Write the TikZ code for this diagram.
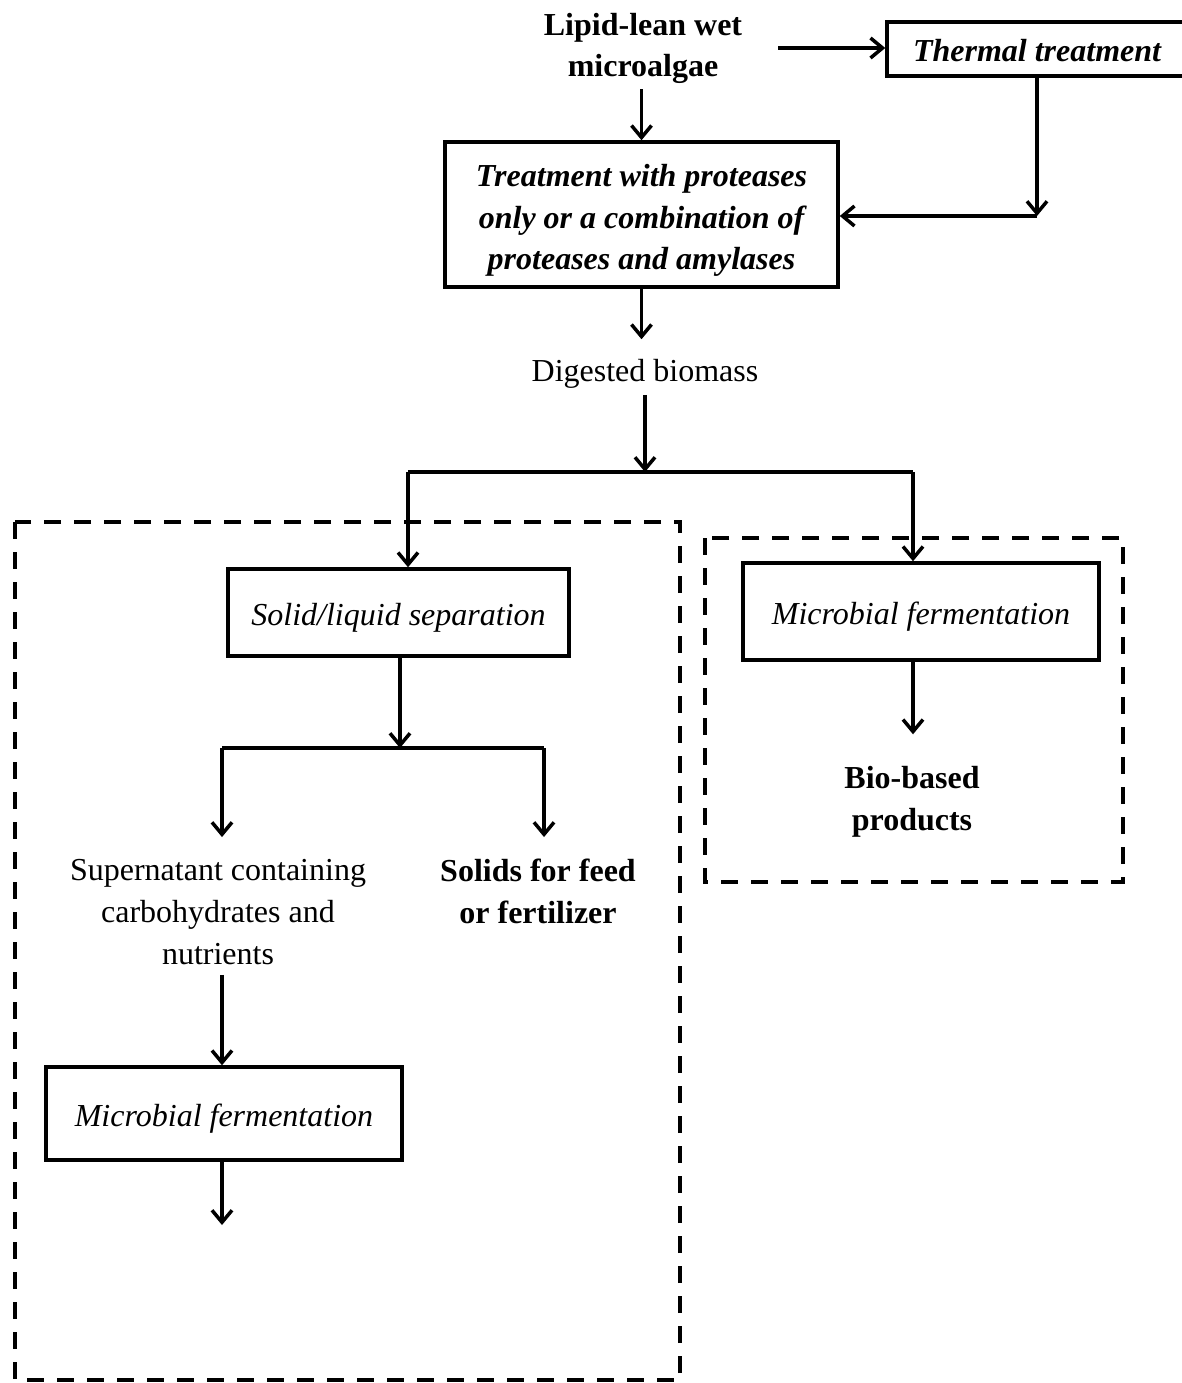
\documentclass[tikz,border=0pt]{standalone}
\usepackage{fontspec}
\setmainfont{Liberation Serif}
\usetikzlibrary{arrows.meta}
\newcommand{\bstrut}{\rule[-8pt]{0pt}{42pt}}
\tikzset{
  box/.style={draw, line width=3.5pt, inner sep=2pt, align=center},
  txt/.style={inner sep=4pt, align=center},
  arr/.style={line width=3.5pt, -{Straight Barb[length=12pt,width=20pt]}},
  ln/.style={line width=3.5pt},
  dbox/.style={draw, line width=3.5pt, dash pattern=on 17pt off 13pt}
}
\begin{document}
\begin{tikzpicture}[x=1pt,y=-1pt,font=\fontsize{32}{42}\selectfont]
\useasboundingbox (0,0) rectangle (1182,1383);
% dashed groups
\draw[dbox] (15,522) rectangle (680,1380);
\draw[dbox] (705,538) rectangle (1123,882);
% nodes
\node[txt, font=\fontsize{32}{41}\selectfont\bfseries] (lipid) at (643,48) {Lipid-lean wet\\microalgae};
\node[box, minimum width=300pt, minimum height=54pt, font=\fontsize{32}{42}\selectfont\bfseries\itshape] (thermal) at (1037,49) {\bstrut Thermal treatment};
\node[box, minimum width=393pt, minimum height=145pt, font=\fontsize{32}{41.5}\selectfont\bfseries\itshape] (treat) at (641.5,214.5) {\bstrut Treatment with proteases\\only or a combination of\\proteases and amylases};
\node[txt] (digest) at (645,374) {Digested biomass};
\node[box, minimum width=341pt, minimum height=87pt, font=\fontsize{32}{42}\selectfont\itshape] (slsep) at (398.5,612.5) {\bstrut Solid/liquid separation};
\node[box, minimum width=356pt, minimum height=97pt, font=\fontsize{32}{42}\selectfont\itshape] (mfr) at (921,611.5) {\bstrut Microbial fermentation};
\node[txt, font=\fontsize{32}{42}\selectfont\bfseries] (bio) at (912,802) {Bio-based\\products};
\node[txt] (super) at (218,912) {Supernatant containing\\carbohydrates and\\nutrients};
\node[txt, font=\fontsize{32}{42}\selectfont\bfseries] (solids) at (538,891) {Solids for feed\\or fertilizer};
\node[box, minimum width=356pt, minimum height=93pt, font=\fontsize{32}{42}\selectfont\itshape] (mfl) at (224,1113.5) {\bstrut Microbial fermentation};
% junction coordinates
\coordinate (a0) at (778,48);
\coordinate (tc) at (1037,216);
\coordinate (j1) at (645,472);
\coordinate (jl) at (408,472);
\coordinate (jr) at (913,472);
\coordinate (j2) at (400,748);
\coordinate (j2l) at (222,748);
\coordinate (j2r) at (544,748);
\coordinate (out) at (222,1225);
% connectors
\draw[arr] (a0) -- (thermal.west |- a0);
\draw[arr, shorten <=2pt] (lipid.south -| treat.north) -- (treat.north);
\draw[arr] (thermal.south -| tc) -- (tc);
\draw[arr] (tc) -- (treat.east |- tc);
\draw[arr, shorten >=16pt] (treat.south) -- (treat.south |- digest.north);
\draw[arr, shorten <=2pt] (digest.south) -- (j1);
\draw[ln] (jl) -- (jr);
\draw[arr] (jl) -- (jl |- slsep.north);
\draw[arr] (jr) -- (jr |- mfr.north);
\draw[arr] (slsep.south -| j2) -- (j2);
\draw[ln] (j2l) -- (j2r);
\draw[arr, shorten >=18pt] (j2l) -- (j2l |- super.north);
\draw[arr, shorten >=18pt] (j2r) -- (j2r |- super.north);
\draw[arr, shorten <=6pt] (super.south -| j2l) -- (mfl.north -| j2l);
\draw[arr] (mfl.south -| j2l) -- (out);
\draw[arr, shorten >=28pt] (mfr.south -| jr) -- (jr |- bio.north);
\end{tikzpicture}
\end{document}
